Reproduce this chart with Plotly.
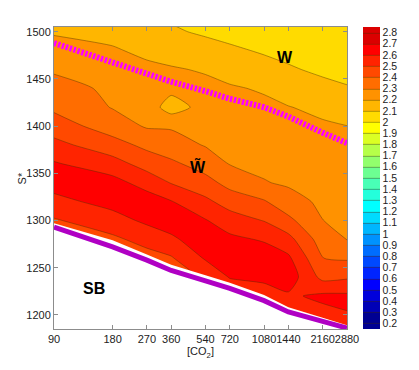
import numpy as np
import plotly.graph_objects as go

# [CO2] columns and S* rows of the grid
co2 = [90, 180, 270, 360, 540, 720, 1080, 1440, 2160, 2880]
s_star = [1180, 1200, 1220, 1240, 1260, 1280, 1300, 1320, 1340,
          1360, 1380, 1400, 1420, 1440, 1460, 1480, 1500, 1520]

# values (rows = s_star, cols = co2)
z_vals = [
    [2.22, 2.26, 2.28, 2.30, 2.36, 2.40, 2.42, 2.45, 2.51, 2.54],
    [2.26, 2.30, 2.32, 2.34, 2.41, 2.45, 2.48, 2.505, 2.57, 2.595],
    [2.30, 2.34, 2.36, 2.38, 2.46, 2.52, 2.55, 2.585, 2.62, 2.618],
    [2.34, 2.38, 2.40, 2.42, 2.52, 2.606, 2.624, 2.654, 2.471, 2.486],
    [2.38, 2.42, 2.46, 2.49, 2.61, 2.664, 2.655, 2.618, 2.401, 2.389],
    [2.42, 2.48, 2.535, 2.578, 2.67, 2.622, 2.59, 2.532, 2.35, 2.297],
    [2.49, 2.56, 2.62, 2.66, 2.606, 2.548, 2.496, 2.424, 2.301, 2.281],
    [2.57, 2.635, 2.65, 2.605, 2.522, 2.457, 2.409, 2.336, 2.282, 2.265],
    [2.64, 2.635, 2.56, 2.495, 2.435, 2.367, 2.305, 2.288, 2.264, 2.249],
    [2.61, 2.54, 2.46, 2.42, 2.356, 2.296, 2.28, 2.267, 2.246, 2.233],
    [2.53, 2.44, 2.375, 2.34, 2.294, 2.274, 2.259, 2.246, 2.229, 2.217],
    [2.45, 2.35, 2.29, 2.29, 2.27, 2.252, 2.239, 2.224, 2.211, 2.201],
    [2.38, 2.295, 2.26, 2.15, 2.24, 2.23, 2.218, 2.203, 2.18, 2.155],
    [2.33, 2.285, 2.24, 2.23, 2.222, 2.209, 2.191, 2.16, 2.13, 2.107],
    [2.29, 2.25, 2.22, 2.208, 2.192, 2.168, 2.134, 2.112, 2.08, 2.07],
    [2.24, 2.21, 2.18, 2.164, 2.138, 2.116, 2.09, 2.07, 2.055, 2.04],
    [2.19, 2.17, 2.13, 2.113, 2.086, 2.07, 2.05, 2.04, 2.03, 2.01],
    [2.16, 2.12, 2.09, 2.08, 2.05, 2.03, 2.02, 2.01, 2.005, 1.99],
]

# boundary curves
w_line = [1488, 1468, 1456, 1447, 1437, 1429, 1420, 1410, 1393, 1382]   # magenta dotted
sb_line = [1293, 1272, 1258, 1247, 1236, 1228, 1215, 1203, 1193, 1186]  # purple
sb_edge = [1297, 1279, 1264, 1253, 1242, 1234, 1221, 1208, 1197, 1189]  # top of white SB area

x_ticks = [90, 180, 270, 360, 540, 720, 1080, 1440, 2160, 2880]
cbar_ticks = [0.2, 0.3, 0.4, 0.5, 0.6, 0.7, 0.8, 0.9, 1, 1.1, 1.2, 1.3, 1.4,
              1.5, 1.6, 1.7, 1.8, 1.9, 2, 2.1, 2.2, 2.3, 2.4, 2.5, 2.6, 2.7, 2.8]

# matlab jet(26), one colour per 0.1 band, padded at both ends
jet26 = ['#000092', '#0000b6', '#0000db', '#0000ff', '#0024ff', '#0049ff',
         '#006dff', '#0092ff', '#00b6ff', '#00dbff', '#00ffff', '#24ffdb',
         '#49ffb6', '#6dff92', '#92ff6d', '#b6ff49', '#dbff24', '#ffff00',
         '#ffdb00', '#ffb600', '#ff9200', '#ff6d00', '#ff4900', '#ff2400',
         '#ff0000', '#db0000']
cols = [jet26[0]] + jet26 + [jet26[-1]]
cscale = [[i / (len(cols) - 1), c] for i, c in enumerate(cols)]

font = 'Liberation Sans, Arial, sans-serif'

fig = go.Figure()
fig.add_trace(go.Contour(
    x=co2, y=s_star, z=z_vals,
    colorscale=cscale,
    contours=dict(start=0.2, end=2.8, size=0.1, coloring='fill'),
    line=dict(color='rgba(70,45,0,0.6)', width=0.7, smoothing=0.6),
    colorbar=dict(thickness=17, len=1, lenmode='fraction', x=1.054, xanchor='left',
                  y=0.5, yanchor='middle', ypad=0, xpad=0, outlinewidth=0,
                  tickvals=cbar_ticks, ticktext=[f'{v:g}' for v in cbar_ticks],
                  ticks='', ticklabelstep=1,
                  tickfont=dict(size=10.5, color='#222', family=font)),
    hoverinfo='skip'))
fig.add_trace(go.Scatter(x=co2, y=sb_edge, mode='lines', fill='tozeroy',
                         fillcolor='white', line=dict(width=0), hoverinfo='skip'))
fig.add_trace(go.Scatter(x=co2, y=sb_line, mode='lines',
                         line=dict(color='#b000c4', width=5), hoverinfo='skip'))
fig.add_trace(go.Scatter(x=co2, y=w_line, mode='lines',
                         line=dict(color='#ff00ff', width=6, dash='2.5px,1.6px'),
                         hoverinfo='skip'))

ax = dict(showline=True, linecolor='#8c8c8c', linewidth=1, mirror='ticks',
          ticks='inside', ticklen=4, tickcolor='#8c8c8c', showgrid=False,
          zeroline=False, automargin=False,
          tickfont=dict(size=11, color='#222', family=font))
fig.update_xaxes(type='log', range=[np.log10(co2[0]), np.log10(co2[-1])],
                 tickvals=x_ticks, ticktext=[str(v) for v in x_ticks], tickangle=0,
                 title=dict(text='[CO<sub>2</sub>]', font=dict(size=11, color='#222'),
                            standoff=2), **ax)
fig.update_yaxes(range=[1185, 1505], dtick=50, **ax)

# y title as annotation so it sits close to the tick labels
fig.add_annotation(xref='paper', yref='paper', x=-0.135, y=0.5, text='S*',
                   textangle=-90, showarrow=False,
                   font=dict(size=11, color='#222', family=font))

labels = [('W', 1386, 1473), ('W\u0303', 493, 1357), ('SB', 144, 1228)]
for txt, xv, yv in labels:
    fig.add_annotation(x=np.log10(xv), y=yv, text=f'<b>{txt}</b>', showarrow=False,
                       font=dict(size=16, color='black', family=font))

# page body adds an 8px margin, so the figure is drawn 8px smaller
fig.update_layout(width=411, height=362, showlegend=False,
                  margin=dict(l=46, r=72, t=19, b=41, autoexpand=False),
                  paper_bgcolor='white', plot_bgcolor='white',
                  font=dict(family=font))
fig.write_html('out.html')
